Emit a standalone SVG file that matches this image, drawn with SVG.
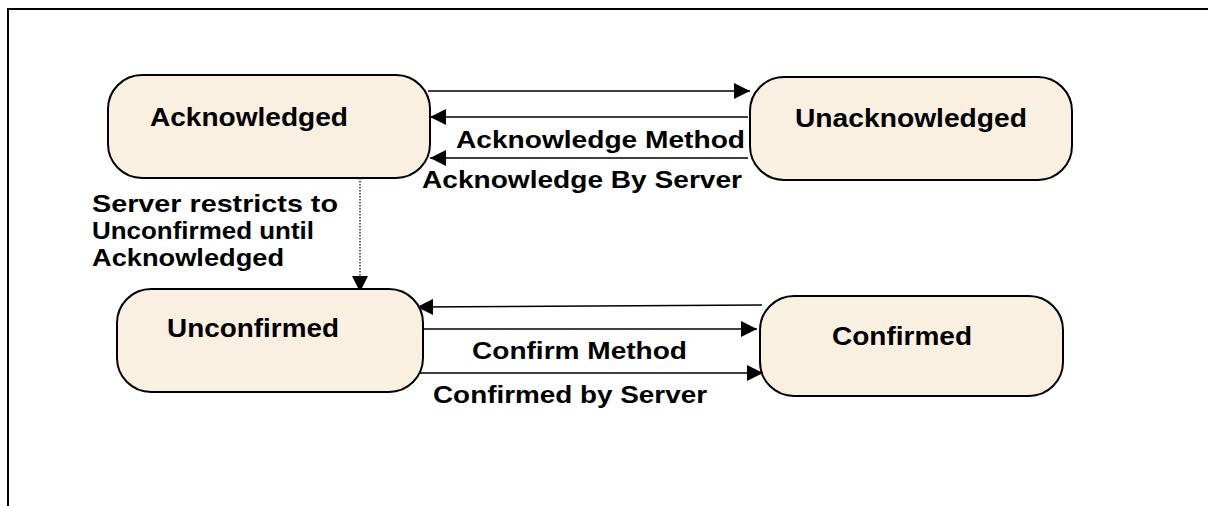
<svg xmlns="http://www.w3.org/2000/svg" width="1208" height="506" viewBox="0 0 1208 506">
<style>
.node{fill:#FAF0E2;stroke:#000;stroke-width:2}
.nl{font-family:"Liberation Sans",Arial,sans-serif;font-weight:bold;font-size:26px;fill:#000}
.el{font-family:"Liberation Sans",Arial,sans-serif;font-weight:bold;font-size:24px;fill:#000}
.c{stroke:#000;stroke-width:1.5;fill:none}
.d{stroke:#000;stroke-width:1.2;fill:none;stroke-dasharray:1.5 1.5}
</style>
<defs>
<marker id="ahl" viewBox="0 0 10 10" refX="10" refY="5" markerWidth="16" markerHeight="16" markerUnits="userSpaceOnUse" orient="auto">
<path d="M0,0 L10,5 L0,10 Z" fill="#000"/>
</marker>
</defs>
<rect width="1208" height="506" fill="#fff"/>
<path d="M8,506 V9 H1208" fill="none" stroke="#000" stroke-width="2"/>
<g id="connectors">
<line class="c" x1="428" y1="91" x2="750" y2="91" marker-end="url(#ahl)"/>
<line class="c" x1="748" y1="117" x2="430" y2="117" marker-end="url(#ahl)"/>
<line class="c" x1="748" y1="158" x2="430" y2="158" marker-end="url(#ahl)"/>
<line class="d" x1="360" y1="178" x2="360" y2="292" marker-end="url(#ahl)"/>
<line class="c" x1="762" y1="305" x2="417" y2="307" marker-end="url(#ahl)"/>
<line class="c" x1="420" y1="329" x2="757" y2="329" marker-end="url(#ahl)"/>
<line class="c" x1="420" y1="373" x2="763" y2="373" marker-end="url(#ahl)"/>
<text class="el" x="456" y="148" textLength="289" lengthAdjust="spacingAndGlyphs">Acknowledge Method</text>
<text class="el" x="422" y="188" textLength="320" lengthAdjust="spacingAndGlyphs">Acknowledge By Server</text>
<text class="el" x="92" y="212" textLength="246" lengthAdjust="spacingAndGlyphs">Server restricts to</text>
<text class="el" x="92" y="239" textLength="222" lengthAdjust="spacingAndGlyphs">Unconfirmed until</text>
<text class="el" x="92" y="266" textLength="192" lengthAdjust="spacingAndGlyphs">Acknowledged</text>
<text class="el" x="472" y="359" textLength="215" lengthAdjust="spacingAndGlyphs">Confirm Method</text>
<text class="el" x="433" y="403" textLength="274" lengthAdjust="spacingAndGlyphs">Confirmed by Server</text>
</g>
<g id="n-acknowledged">
<rect class="node" x="108" y="75" width="322" height="103" rx="34" ry="34"/>
<text class="nl" x="150" y="126" textLength="198" lengthAdjust="spacingAndGlyphs">Acknowledged</text>
</g>
<g id="n-unacknowledged">
<rect class="node" x="750" y="77" width="322" height="103" rx="34" ry="34"/>
<text class="nl" x="795" y="127" textLength="232" lengthAdjust="spacingAndGlyphs">Unacknowledged</text>
</g>
<g id="n-unconfirmed">
<rect class="node" x="117" y="289" width="306" height="103" rx="34" ry="34"/>
<text class="nl" x="167" y="337" textLength="172" lengthAdjust="spacingAndGlyphs">Unconfirmed</text>
</g>
<g id="n-confirmed">
<rect class="node" x="760" y="296" width="303" height="100" rx="34" ry="34"/>
<text class="nl" x="832" y="345" textLength="140" lengthAdjust="spacingAndGlyphs">Confirmed</text>
</g>
</svg>
